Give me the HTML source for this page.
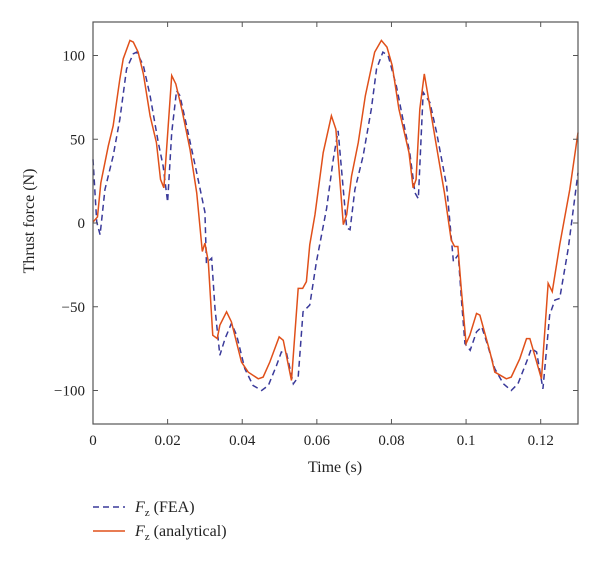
<!DOCTYPE html>
<html><head><meta charset="utf-8"><style>
body{margin:0;background:#fff}
svg text{font-family:"Liberation Serif",serif;fill:#222}
</style></head><body>
<svg width="600" height="562">
<g id="plot"></g>
<g id="axes"></g>
<text x="34" y="221" font-size="16" text-anchor="middle" transform="rotate(-90 34 221)">Thrust force (N)</text>
<text x="335" y="472" font-size="16" text-anchor="middle">Time (s)</text>
<g>
<line x1="93" y1="507" x2="125" y2="507" stroke="#3a3a9a" stroke-width="1.5" stroke-dasharray="6,4"/>
<text x="135" y="512" font-size="16"><tspan font-style="italic">F</tspan><tspan font-size="11" dy="4">z</tspan><tspan dy="-4"> (FEA)</tspan></text>
<line x1="93" y1="531" x2="125" y2="531" stroke="#e0501a" stroke-width="1.5"/>
<text x="135" y="536" font-size="16"><tspan font-style="italic">F</tspan><tspan font-size="11" dy="4">z</tspan><tspan dy="-4"> (analytical)</tspan></text>
</g>
</svg>
<script>
const xTicks=[0,0.02,0.04,0.06,0.08,0.1,0.12];
const xTickLabels=["0","0.02","0.04","0.06","0.08","0.1","0.12"];
const yTicks=[-100,-50,0,50,100];
const yTickLabels=["−100","−50","0","50","100"];
const anaT=[0,.0012,.0021,.0041,.0054,.0072,.0081,.0099,.0108,.0121,.0135,.0153,.017,.0181,.019,.0211,.0222,.0238,.026,.0278,.0293,.03,.0309,.0321,.0333,.034,.0358,.0371,.0398,.0416,.0443,.0456,.0474,.0499,.051,.0532,.055,.0562,.0572,.0581,.0595,.0617,.0639,.0651,.0671,.068,.0693,.0711,.073,.0755,.0773,.0788,.0802,.082,.0847,.0858,.0866,.0876,.0888,.0901,.0919,.0942,.096,.0969,.0978,.0987,.1,.101,.1028,.1037,.1064,.1077,.1108,.1121,.1144,.1162,.1171,.1184,.1202,.122,.1231,.1251,.1278,.13];
const anaV=[0.6,3.6,24,46,58,86,98,109,108,102,89,64,48,26,21,88,83,68,44,18,-17,-12,-23,-67,-69,-61,-53,-59,-83,-89,-93,-92,-83,-68,-70,-94,-39,-39,-35,-13,5,42,64,56,-1,5,28,48,76,102,109,105,94,68,42,21,26,68,89,72,48,18,-10,-14,-14,-39,-72,-67,-54,-55,-77,-89,-93,-92,-81,-69,-69,-79,-93,-36,-41,-13,20,54];
const feaT=[0,.001,.0019,.0032,.0054,.0072,.009,.0108,.0117,.0135,.0153,.0175,.0188,.02,.0211,.0224,.0233,.0251,.0278,.03,.0304,.0318,.0327,.034,.0354,.0371,.0385,.0407,.0429,.0452,.047,.0492,.0505,.0519,.0537,.055,.0563,.0581,.0599,.0626,.0644,.0657,.068,.0689,.0702,.0724,.0746,.076,.0777,.0791,.0813,.0836,.0849,.0863,.0872,.0885,.0903,.0921,.0948,.0966,.0979,.0988,.0997,.1011,.1028,.1042,.1055,.1077,.11,.1121,.1139,.1162,.1175,.1189,.1206,.1224,.1238,.1251,.1274,.13];
const feaV=[38,0.6,-7,20,40,62,92,101,102,94,76,48,34,12.5,54,79,76,58,30,6.5,-24,-21,-51,-79,-69,-60,-67,-87,-97,-100,-97,-85,-77,-78,-96,-92,-53,-49,-23,8.5,38,55,-3,-4,20,40,68,92,102,100,82,56,42,18,14.5,78,72,54,22,-23,-19,-47,-72,-76,-65,-62,-71,-87,-96,-100,-96,-83,-75,-77,-99,-55,-46,-45,-15,30];
const L=93,R=578,T=22,B=424,XMAX=0.13,YMIN=-120,YMAX=120;
const sx=t=>L+t/XMAX*(R-L);
const sy=v=>B-(v-YMIN)/(YMAX-YMIN)*(B-T);
const NS="http://www.w3.org/2000/svg";
const plot=document.getElementById('plot'),axes=document.getElementById('axes');
function mk(tag,at,parent){const e=document.createElementNS(NS,tag);for(const k in at)e.setAttribute(k,at[k]);parent.appendChild(e);return e;}
const fea=mk('polyline',{points:feaT.map((t,i)=>sx(t)+','+sy(feaV[i])).join(' '),fill:'none',stroke:'#3a3a9a','stroke-width':1.5,'stroke-dasharray':'6,4'},plot);


const ana=mk('polyline',{points:anaT.map((t,i)=>sx(t)+','+sy(anaV[i])).join(' '),fill:'none',stroke:'#e0501a','stroke-width':1.5},plot);


const box=mk('rect',{x:L,y:T,width:R-L,height:B-T,fill:'none',stroke:'#555','stroke-width':1.2},axes);


xTicks.forEach((t,i)=>{const x=sx(t);
mk('line',{x1:x,y1:B,x2:x,y2:B-5,stroke:'#555'},axes);mk('line',{x1:x,y1:T,x2:x,y2:T+5,stroke:'#555'},axes);
const tx=mk('text',{x:x,y:445,'font-size':15,'text-anchor':'middle'},axes);tx.textContent=xTickLabels[i];

});
yTicks.forEach((v,i)=>{const y=sy(v);
mk('line',{x1:L,y1:y,x2:L+5,y2:y,stroke:'#555'},axes);mk('line',{x1:R,y1:y,x2:R-5,y2:y,stroke:'#555'},axes);
const tx=mk('text',{x:L-8,y:y+5,'font-size':15,'text-anchor':'end'},axes);tx.textContent=yTickLabels[i];

});
</script>
</body></html>
